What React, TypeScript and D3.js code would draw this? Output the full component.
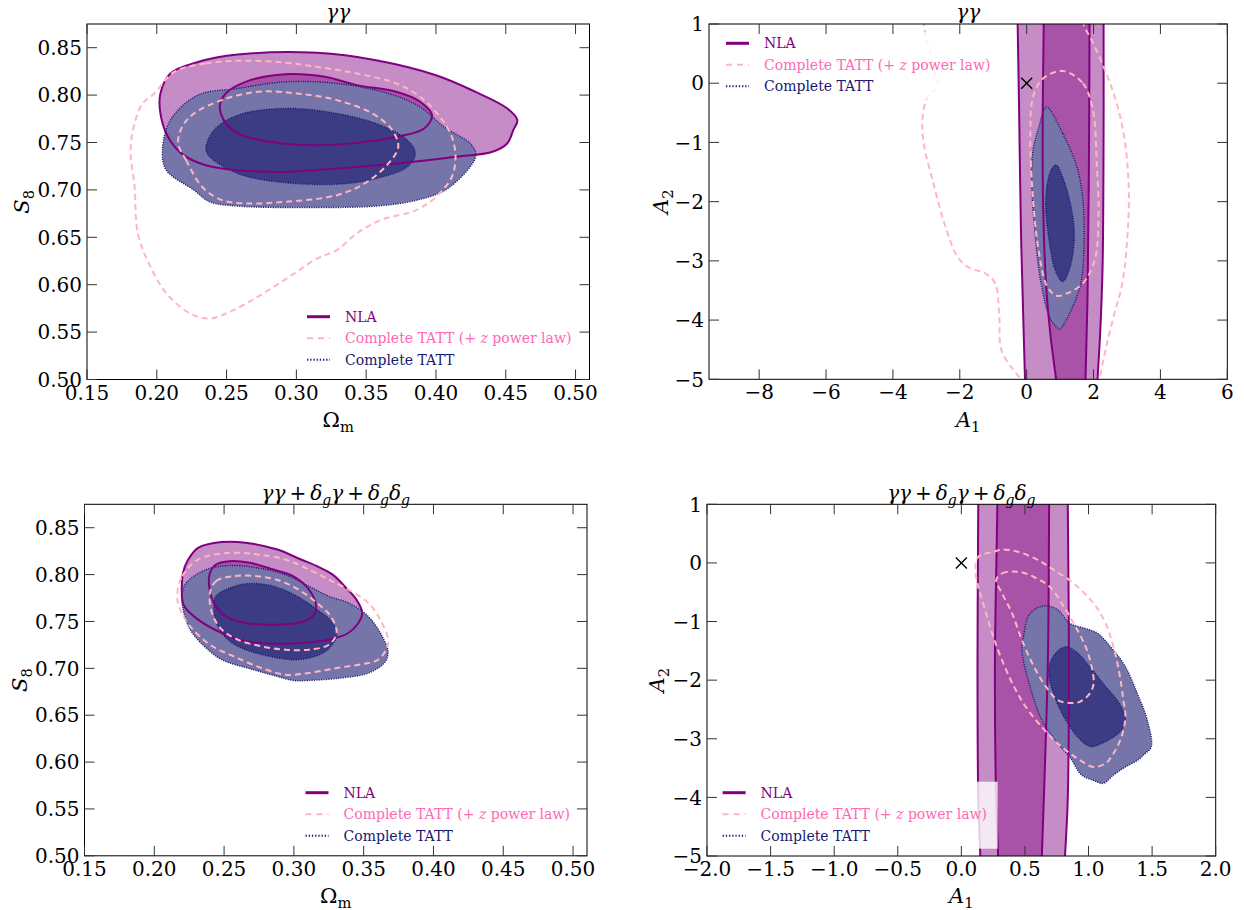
import React from 'react';
import * as d3 from 'd3';

type Pt = [number, number];

// ---------- tick values ----------
const omTicks = [0.15, 0.2, 0.25, 0.3, 0.35, 0.4, 0.45, 0.5];
const s8Ticks = [0.5, 0.55, 0.6, 0.65, 0.7, 0.75, 0.8, 0.85];
const a1TicksTop = [-8, -6, -4, -2, 0, 2, 4, 6];
const a1TicksBottom = [-2, -1.5, -1, -0.5, 0, 0.5, 1, 1.5, 2];
const a2Ticks = [-5, -4, -3, -2, -1, 0, 1];

const legendLabels = ['NLA', 'Complete TATT (+ z power law)', 'Complete TATT'];

// ---------- top-left: gamma gamma, Omega_m vs S8 ----------
const tlNlaOuter: Pt[] = [[0.2097,0.8228],[0.2295,0.835],[0.258,0.8428],[0.3148,0.8446],[0.357,0.8368],[0.40,0.821],[0.4284,0.8034],[0.4511,0.7859],[0.4583,0.7736],[0.4554,0.763],[0.451,0.749],[0.44,0.740],[0.414,0.735],[0.3716,0.7278],[0.329,0.7226],[0.292,0.719],[0.258,0.7208],[0.235,0.726],[0.218,0.738],[0.208,0.756],[0.2026,0.7806],[0.2026,0.8017]];
const tlNlaInner: Pt[] = [[0.2452,0.7894],[0.2494,0.8017],[0.2636,0.814],[0.292,0.822],[0.3205,0.8193],[0.3432,0.8105],[0.3716,0.8035],[0.3886,0.793],[0.3972,0.7788],[0.3915,0.7648],[0.3716,0.756],[0.3432,0.7496],[0.3091,0.7472],[0.2807,0.7507],[0.258,0.7595],[0.248,0.7736]];
const tlTattOuter: Pt[] = [[0.204,0.7401],[0.2068,0.7208],[0.2267,0.6997],[0.238,0.6874],[0.258,0.6829],[0.3148,0.6814],[0.357,0.6829],[0.3858,0.689],[0.4085,0.7015],[0.4284,0.735],[0.4256,0.7473],[0.4057,0.7666],[0.3886,0.7876],[0.366,0.8017],[0.329,0.8123],[0.292,0.814],[0.258,0.807],[0.2295,0.80],[0.2097,0.7736]];
const tlTattInner: Pt[] = [[0.2352,0.7437],[0.238,0.735],[0.258,0.7173],[0.2864,0.7085],[0.329,0.706],[0.357,0.712],[0.3795,0.7243],[0.3852,0.7384],[0.3795,0.7525],[0.3602,0.7683],[0.329,0.7806],[0.292,0.7859],[0.258,0.7788],[0.241,0.763]];
const tlPinkOuter: Pt[] = [[0.2125,0.8245],[0.235,0.8333],[0.258,0.8362],[0.2864,0.835],[0.3148,0.8298],[0.3432,0.8228],[0.3716,0.8123],[0.3886,0.7982],[0.4028,0.7771],[0.4114,0.756],[0.414,0.735],[0.4114,0.7138],[0.40,0.6927],[0.3858,0.6786],[0.3602,0.6681],[0.3432,0.654],[0.329,0.6364],[0.3148,0.6276],[0.2949,0.6083],[0.2722,0.5872],[0.2523,0.5714],[0.2381,0.5643],[0.2239,0.5696],[0.207,0.5907],[0.1955,0.6188],[0.1864,0.654],[0.1841,0.7033],[0.1812,0.7419],[0.1841,0.77],[0.1898,0.7912],[0.1983,0.8017]];
const tlPinkInner: Pt[] = [[0.2153,0.749],[0.221,0.7314],[0.2324,0.7033],[0.2466,0.6892],[0.2636,0.6857],[0.292,0.6874],[0.329,0.6944],[0.3489,0.7068],[0.3659,0.7278],[0.373,0.7454],[0.3687,0.763],[0.3545,0.7806],[0.329,0.7947],[0.3006,0.8017],[0.2722,0.8035],[0.2466,0.7947],[0.2267,0.7806],[0.2182,0.7666]];

// ---------- top-right: gamma gamma, A1 vs A2 ----------
const trNlaOuterLeft: Pt[] = [[-0.28,1.5],[-0.27,1],[-0.23,-0.3],[-0.17,-2.5],[-0.09,-4.2],[-0.05,-5],[-0.03,-5.5]];
const trNlaOuterRight: Pt[] = [[2.30,1.5],[2.30,1],[2.30,-0.8],[2.27,-3.1],[2.20,-4.2],[2.12,-5],[2.08,-5.5]];
const trNlaInnerLeft: Pt[] = [[0.51,1.5],[0.51,1],[0.48,-0.5],[0.49,-2.0],[0.58,-3.4],[0.72,-4.3],[0.88,-5],[0.98,-5.5]];
const trNlaInnerRight: Pt[] = [[1.88,1.5],[1.88,1],[1.86,-1.5],[1.82,-3.6],[1.76,-5],[1.73,-5.5]];
const trTattOuter: Pt[] = [[0.61,-0.40],[1.08,-0.85],[1.5,-1.41],[1.68,-1.97],[1.71,-2.82],[1.62,-3.38],[1.38,-3.77],[1.08,-4.1],[1.0,-4.155],[0.73,-4.0],[0.43,-3.38],[0.25,-2.53],[0.15,-1.69],[0.19,-1.13],[0.37,-0.73],[0.52,-0.45]];
const trTattInner: Pt[] = [[0.88,-1.38],[1.14,-1.69],[1.38,-2.25],[1.42,-2.65],[1.30,-3.10],[1.08,-3.35],[0.85,-3.15],[0.67,-2.65],[0.57,-2.08],[0.64,-1.63],[0.76,-1.44]];
const trPinkInner: Pt[] = [[1.08,0.207],[1.68,0],[1.98,-0.45],[2.10,-1.41],[2.15,-2.25],[2.04,-2.98],[1.68,-3.38],[1.20,-3.55],[0.90,-3.59],[0.61,-3.43],[0.37,-2.87],[0.19,-1.97],[0.11,-0.85],[0.19,-0.23],[0.49,0.08]];
const trPinkOuterLeft: Pt[] = [[-3.1,1.4],[-3.08,1],[-2.79,0.28],[-2.67,-0.06],[-2.96,-0.23],[-3.11,-0.56],[-3.08,-1.01],[-2.79,-1.69],[-2.43,-2.42],[-2.07,-2.93],[-1.71,-3.12],[-1.24,-3.21],[-0.94,-3.38],[-0.82,-3.94],[-0.76,-4.5],[-0.40,-4.84],[-0.17,-5],[0.0,-5.2]];
const trPinkOuterRight: Pt[] = [[1.65,1.4],[1.70,1],[1.94,0.73],[2.30,0.28],[2.66,-0.28],[2.90,-0.85],[3.05,-1.69],[3.02,-2.53],[2.86,-3.38],[2.60,-3.94],[2.36,-4.5],[2.18,-5],[2.1,-5.3]];

// ---------- bottom-left: 3x2pt, Omega_m vs S8 ----------
const blNlaOuter: Pt[] = [[0.22,0.7733],[0.2206,0.8019],[0.2243,0.816],[0.2314,0.8286],[0.2484,0.8347],[0.2654,0.834],[0.2881,0.8268],[0.3051,0.8161],[0.3165,0.809],[0.3278,0.80],[0.3363,0.7876],[0.3448,0.7733],[0.349,0.7591],[0.3462,0.7484],[0.3391,0.7377],[0.325,0.7306],[0.3051,0.727],[0.2881,0.7263],[0.2654,0.7288],[0.2484,0.7377],[0.2314,0.752],[0.2215,0.7662]];
const blNlaInner: Pt[] = [[0.2399,0.8019],[0.2442,0.8108],[0.2541,0.8143],[0.2683,0.8126],[0.2853,0.8054],[0.2994,0.7983],[0.3108,0.784],[0.3159,0.7662],[0.3136,0.7555],[0.3023,0.7484],[0.2853,0.7466],[0.2654,0.7484],[0.2512,0.7555],[0.2427,0.7698],[0.2393,0.7876]];
const blTattOuter: Pt[] = [[0.22,0.7805],[0.2229,0.7912],[0.2371,0.8054],[0.2541,0.8097],[0.2739,0.8072],[0.2938,0.80],[0.3108,0.7876],[0.325,0.7769],[0.3391,0.7698],[0.3533,0.7555],[0.3633,0.7341],[0.3675,0.7163],[0.3647,0.7056],[0.3533,0.6949],[0.3335,0.6896],[0.3108,0.6871],[0.2994,0.6871],[0.2881,0.6914],[0.2711,0.6985],[0.2484,0.7092],[0.2371,0.7217],[0.2257,0.7413],[0.2206,0.7627]];
const blTattInner: Pt[] = [[0.2427,0.7662],[0.2442,0.7769],[0.2541,0.7858],[0.2683,0.7905],[0.2853,0.7876],[0.3023,0.7769],[0.3165,0.7627],[0.3278,0.7484],[0.3306,0.7341],[0.3264,0.7234],[0.3207,0.7163],[0.3108,0.711],[0.2994,0.7092],[0.2825,0.7128],[0.2654,0.7199],[0.2541,0.7288],[0.2456,0.7448]];
const blPinkOuter: Pt[] = [[0.2164,0.7769],[0.22,0.7983],[0.2314,0.8161],[0.2541,0.8232],[0.2739,0.8215],[0.2938,0.8161],[0.3108,0.8054],[0.325,0.7947],[0.3391,0.784],[0.3533,0.7698],[0.3618,0.752],[0.3675,0.7306],[0.366,0.7199],[0.3604,0.7092],[0.3505,0.7049],[0.3306,0.7003],[0.3108,0.695],[0.2938,0.6932],[0.2768,0.7003],[0.2569,0.7128],[0.2399,0.7252],[0.2257,0.7448],[0.2186,0.7627]];
const blPinkInner: Pt[] = [[0.2399,0.7805],[0.2442,0.793],[0.2569,0.7983],[0.2739,0.7983],[0.2909,0.793],[0.3051,0.7823],[0.3165,0.7698],[0.3264,0.7555],[0.3306,0.7377],[0.325,0.7252],[0.3108,0.7199],[0.2938,0.7199],[0.2768,0.7234],[0.2598,0.7306],[0.2484,0.7413],[0.2413,0.7591]];

// ---------- bottom-right: 3x2pt, A1 vs A2 ----------
const brNlaOuterLeft: Pt[] = [[0.133,1.5],[0.133,1],[0.127,-1.7],[0.133,-4],[0.149,-5],[0.155,-5.5]];
const brNlaOuterRight: Pt[] = [[0.837,1.5],[0.837,1],[0.846,-1.7],[0.837,-4],[0.815,-5],[0.80,-5.5]];
const brNlaInnerLeft: Pt[] = [[0.283,1.5],[0.283,1],[0.264,-1.7],[0.273,-4],[0.289,-5],[0.295,-5.5]];
const brNlaInnerRight: Pt[] = [[0.69,1.5],[0.69,1],[0.68,-1.7],[0.649,-4],[0.633,-5],[0.625,-5.5]];
const brTattOuter: Pt[] = [[0.671,-0.73],[0.758,-0.80],[0.852,-1.03],[0.977,-1.12],[1.071,-1.20],[1.196,-1.49],[1.29,-1.77],[1.384,-2.23],[1.462,-2.68],[1.493,-3.14],[1.446,-3.25],[1.384,-3.37],[1.29,-3.48],[1.196,-3.62],[1.118,-3.76],[1.04,-3.71],[0.946,-3.62],[0.852,-3.31],[0.758,-3.08],[0.633,-2.68],[0.54,-2.11],[0.477,-1.49],[0.493,-1.20],[0.524,-0.92],[0.586,-0.78]];
const brTattInner: Pt[] = [[0.821,-1.43],[0.915,-1.54],[1.009,-1.77],[1.134,-2.11],[1.243,-2.40],[1.29,-2.68],[1.259,-2.85],[1.196,-2.97],[1.071,-3.11],[1.009,-3.13],[0.915,-2.97],[0.821,-2.68],[0.743,-2.34],[0.69,-1.94],[0.696,-1.72],[0.743,-1.54]];
const brPinkOuter: Pt[] = [[0.133,0.106],[0.258,0.19],[0.32,0.23],[0.446,0.19],[0.602,0.05],[0.727,-0.12],[0.883,-0.35],[1.04,-0.69],[1.134,-1.03],[1.196,-1.43],[1.243,-1.89],[1.274,-2.34],[1.29,-2.63],[1.259,-2.97],[1.196,-3.25],[1.134,-3.42],[1.04,-3.48],[0.915,-3.34],[0.758,-3.08],[0.633,-2.80],[0.508,-2.46],[0.414,-2.11],[0.32,-1.66],[0.242,-1.20],[0.18,-0.75],[0.133,-0.41],[0.111,-0.12]];
const brPinkInner: Pt[] = [[0.274,-0.29],[0.32,-0.18],[0.446,-0.15],[0.571,-0.24],[0.696,-0.41],[0.79,-0.69],[0.883,-1.03],[0.977,-1.43],[1.024,-1.77],[1.04,-2.06],[1.009,-2.23],[0.931,-2.37],[0.852,-2.39],[0.758,-2.34],[0.665,-2.11],[0.571,-1.77],[0.477,-1.32],[0.399,-0.86],[0.32,-0.52]];

const fiducial: Pt = [0, 0];

// ---------- styles ----------
const NLA_LINE = '#800080';
const NLA_OUT = '#c68cc6';
const NLA_IN = '#a852a8';
const TATT_OUT = '#7575a9';
const TATT_IN = '#3c3c84';
const TATT_LINE = '#191970';
const PINK = '#ffb6c1';
const PINK_TEXT = '#ff69b4';
const FONT = "'DejaVu Serif', 'Liberation Serif', serif";

type Seg = { t: string; i?: boolean; sub?: boolean };

const titleGG: Seg[] = [{ t: 'γγ', i: true }];
const title3x2: Seg[] = [
  { t: 'γγ', i: true }, { t: '\u2009+\u2009' }, { t: 'δ', i: true }, { t: 'g', i: true, sub: true },
  { t: 'γ', i: true }, { t: '\u2009+\u2009' }, { t: 'δ', i: true }, { t: 'g', i: true, sub: true },
  { t: 'δ', i: true }, { t: 'g', i: true, sub: true },
];
const labOm: Seg[] = [{ t: 'Ω' }, { t: 'm', sub: true }];
const labS8: Seg[] = [{ t: 'S', i: true }, { t: '8', sub: true }];
const labA1: Seg[] = [{ t: 'A', i: true }, { t: '1', sub: true }];
const labA2: Seg[] = [{ t: 'A', i: true }, { t: '2', sub: true }];

type PanelDef = {
  key: string;
  box: [number, number, number, number];
  xDomain: [number, number];
  yDomain: [number, number];
  xTicks: number[];
  yTicks: number[];
  xFmt: string;
  yFmt: string;
  xLabel: Seg[];
  yLabel: Seg[];
  title: Seg[];
  titleY: number;
  xLabelY: number;
  yLabelX: number;
  nlaClosed?: [Pt[], Pt[]];
  nlaBand?: [Pt[], Pt[], Pt[], Pt[]];
  tatt: [Pt[], Pt[]];
  pinkClosed: Pt[][];
  pinkOpen: Pt[][];
  marker: boolean;
  legend: [number, number];
};

const panels: PanelDef[] = [
  {
    key: 'tl', box: [87, 589.5, 24, 379.5], xDomain: [0.15, 0.51], yDomain: [0.5, 0.875],
    xTicks: omTicks, yTicks: s8Ticks, xFmt: '.2f', yFmt: '.2f',
    xLabel: labOm, yLabel: labS8, title: titleGG, titleY: 19, xLabelY: 427, yLabelX: 29,
    nlaClosed: [tlNlaOuter, tlNlaInner], tatt: [tlTattOuter, tlTattInner],
    pinkClosed: [tlPinkOuter, tlPinkInner], pinkOpen: [], marker: false, legend: [307, 316.7],
  },
  {
    key: 'tr', box: [709, 1227.3, 24, 379.3], xDomain: [-9.5, 6], yDomain: [-5, 1],
    xTicks: a1TicksTop, yTicks: a2Ticks, xFmt: 'd', yFmt: 'd',
    xLabel: labA1, yLabel: labA2, title: titleGG, titleY: 19, xLabelY: 427, yLabelX: 668,
    nlaBand: [trNlaOuterLeft, trNlaOuterRight, trNlaInnerLeft, trNlaInnerRight], tatt: [trTattOuter, trTattInner],
    pinkClosed: [trPinkInner], pinkOpen: [trPinkOuterLeft, trPinkOuterRight], marker: true, legend: [726, 43.3],
  },
  {
    key: 'bl', box: [84.5, 587, 504.3, 855.8], xDomain: [0.15, 0.51], yDomain: [0.5, 0.875],
    xTicks: omTicks, yTicks: s8Ticks, xFmt: '.2f', yFmt: '.2f',
    xLabel: labOm, yLabel: labS8, title: title3x2, titleY: 500, xLabelY: 903, yLabelX: 27,
    nlaClosed: [blNlaOuter, blNlaInner], tatt: [blTattOuter, blTattInner],
    pinkClosed: [blPinkOuter, blPinkInner], pinkOpen: [], marker: false, legend: [305.5, 792.7],
  },
  {
    key: 'br', box: [707, 1215.7, 504.3, 856], xDomain: [-2, 2], yDomain: [-5, 1],
    xTicks: a1TicksBottom, yTicks: a2Ticks, xFmt: '.1f', yFmt: 'd',
    xLabel: labA1, yLabel: labA2, title: title3x2, titleY: 500, xLabelY: 903, yLabelX: 664,
    nlaBand: [brNlaOuterLeft, brNlaOuterRight, brNlaInnerLeft, brNlaInnerRight], tatt: [brTattOuter, brTattInner],
    pinkClosed: [brPinkOuter, brPinkInner], pinkOpen: [], marker: true, legend: [722.6, 792.7],
  },
];

function MathText({ segs, size, ...rest }: { segs: Seg[]; size: number; [k: string]: any }) {
  let shifted = false;
  const shift = size * 0.24;
  const kids = segs.map((s, k) => {
    let dy: number | undefined;
    if (s.sub && !shifted) { dy = shift; shifted = true; }
    else if (!s.sub && shifted) { dy = -shift; shifted = false; }
    return (
      <tspan key={k} dy={dy} fontStyle={s.i ? 'italic' : 'normal'} fontSize={s.sub ? size * 0.7 : size}>
        {s.t}
      </tspan>
    );
  });
  return (
    <text fontFamily={FONT} fontSize={size} style={{ whiteSpace: 'pre' }} {...rest}>
      {kids}
    </text>
  );
}

function Panel({ p }: { p: PanelDef }) {
  const [L, R, T, B] = p.box;
  const x = d3.scaleLinear().domain(p.xDomain).range([L, R]);
  const y = d3.scaleLinear().domain(p.yDomain).range([B, T]);
  const closed = d3.line<Pt>().x(d => x(d[0])).y(d => y(d[1])).curve(d3.curveCatmullRomClosed.alpha(0.5));
  const open = d3.line<Pt>().x(d => x(d[0])).y(d => y(d[1])).curve(d3.curveCatmullRom.alpha(0.5));
  const band = (l: Pt[], r: Pt[]) => (open(l) as string) + 'L' + (open([...r].reverse()) as string).slice(1) + 'Z';
  const clipId = 'clip-' + p.key;
  const xf = d3.format(p.xFmt);
  const yf = d3.format(p.yFmt);
  const cx = (L + R) / 2;
  const cy = (T + B) / 2;
  const tick = 10;
  const tickFont = 20;

  let nlaFills: string[] = [];
  let nlaLines: string[] = [];
  if (p.nlaClosed) {
    nlaFills = [closed(p.nlaClosed[0]) as string, closed(p.nlaClosed[1]) as string];
    nlaLines = nlaFills;
  } else if (p.nlaBand) {
    const [ol, or, il, ir] = p.nlaBand;
    nlaFills = [band(ol, or), band(il, ir)];
    nlaLines = [ol, or, il, ir].map(a => open(a) as string);
  }

  const [lx, ly] = p.legend;
  const rowGap = 21.5;
  const textX = lx + 38;
  const legendColors = [NLA_LINE, PINK_TEXT, TATT_LINE];

  return (
    <g>
      <defs>
        <clipPath id={clipId}>
          <rect x={L} y={T} width={R - L} height={B - T} />
        </clipPath>
      </defs>
      <g clipPath={`url(#${clipId})`}>
        <path d={nlaFills[0]} fill={NLA_OUT} stroke="none" />
        <path d={nlaFills[1]} fill={NLA_IN} stroke="none" />
        <path d={closed(p.tatt[0]) as string} fill={TATT_OUT} stroke="none" />
        <path d={closed(p.tatt[1]) as string} fill={TATT_IN} stroke="none" />
        {p.tatt.map((c, k) => (
          <path key={'tl' + k} d={closed(c) as string} fill="none" stroke={TATT_LINE} strokeWidth={1.4} strokeDasharray="1.1,1.3" />
        ))}
        {nlaLines.map((d, k) => (
          <path key={'nl' + k} d={d} fill="none" stroke={NLA_LINE} strokeWidth={2} />
        ))}
        {p.pinkClosed.map((c, k) => (
          <path key={'pc' + k} d={closed(c) as string} fill="none" stroke={PINK} strokeWidth={2} strokeDasharray="6,4" />
        ))}
        {p.pinkOpen.map((c, k) => (
          <path key={'po' + k} d={open(c) as string} fill="none" stroke={PINK} strokeWidth={2} strokeDasharray="6,4" />
        ))}
        {p.marker && (
          <g stroke="#000" strokeWidth={1.4}>
            <line x1={x(fiducial[0]) - 5.5} y1={y(fiducial[1]) - 5.5} x2={x(fiducial[0]) + 5.5} y2={y(fiducial[1]) + 5.5} />
            <line x1={x(fiducial[0]) - 5.5} y1={y(fiducial[1]) + 5.5} x2={x(fiducial[0]) + 5.5} y2={y(fiducial[1]) - 5.5} />
          </g>
        )}
      </g>

      {/* legend */}
      <rect x={lx - 8} y={ly - 11} width={textX + 237 - (lx - 8)} height={2 * rowGap + 24} fill="#fff" fillOpacity={0.8} />
      <line x1={lx} x2={lx + 23} y1={ly} y2={ly} stroke={NLA_LINE} strokeWidth={3} />
      <line x1={lx} x2={lx + 23} y1={ly + rowGap} y2={ly + rowGap} stroke={PINK} strokeWidth={2} strokeDasharray="6,5" />
      <line x1={lx} x2={lx + 23} y1={ly + 2 * rowGap} y2={ly + 2 * rowGap} stroke={TATT_LINE} strokeWidth={2} strokeDasharray="1.3,1.9" />
      <text x={textX} y={ly} dy="0.35em" fontFamily={FONT} fontSize={14} fill={legendColors[0]}>{legendLabels[0]}</text>
      <text x={textX} y={ly + rowGap} dy="0.35em" fontFamily={FONT} fontSize={14} fill={legendColors[1]} style={{ whiteSpace: 'pre' }}>
        <tspan>{'Complete TATT (+ '}</tspan>
        <tspan fontStyle="italic">z</tspan>
        <tspan>{' power law)'}</tspan>
      </text>
      <text x={textX} y={ly + 2 * rowGap} dy="0.35em" fontFamily={FONT} fontSize={14} fill={legendColors[2]}>{legendLabels[2]}</text>

      {/* frame and ticks */}
      <rect x={L} y={T} width={R - L} height={B - T} fill="none" stroke="#000" strokeWidth={1} />
      {p.xTicks.map((t, k) => (
        <g key={'xt' + k}>
          <line x1={x(t)} x2={x(t)} y1={B} y2={B - tick} stroke="#333" strokeWidth={1} />
          <line x1={x(t)} x2={x(t)} y1={T} y2={T + tick} stroke="#333" strokeWidth={1} />
          <text x={x(t)} y={B + 20} textAnchor="middle" fontFamily={FONT} fontSize={tickFont} fill="#000">{xf(t)}</text>
        </g>
      ))}
      {p.yTicks.map((t, k) => (
        <g key={'yt' + k}>
          <line x1={L} x2={L + tick} y1={y(t)} y2={y(t)} stroke="#333" strokeWidth={1} />
          <line x1={R} x2={R - tick} y1={y(t)} y2={y(t)} stroke="#333" strokeWidth={1} />
          <text x={L - 5} y={y(t)} dy="0.36em" textAnchor="end" fontFamily={FONT} fontSize={tickFont} fill="#000">{yf(t)}</text>
        </g>
      ))}

      <MathText segs={p.title} size={20} x={cx} y={p.titleY} textAnchor="middle" fill="#000" />
      <MathText segs={p.xLabel} size={21} x={cx} y={p.xLabelY} textAnchor="middle" fill="#000" />
      <MathText segs={p.yLabel} size={21} x={0} y={0} textAnchor="middle" fill="#000"
        transform={`translate(${p.yLabelX},${cy}) rotate(-90)`} />
    </g>
  );
}

export default function App() {
  return (
    <svg width={1244} height={910} style={{ position: 'absolute', left: 0, top: 0, background: '#fff' }}>
      <rect x={0} y={0} width={1244} height={910} fill="#fff" />
      {panels.map(p => <Panel key={p.key} p={p} />)}
    </svg>
  );
}
